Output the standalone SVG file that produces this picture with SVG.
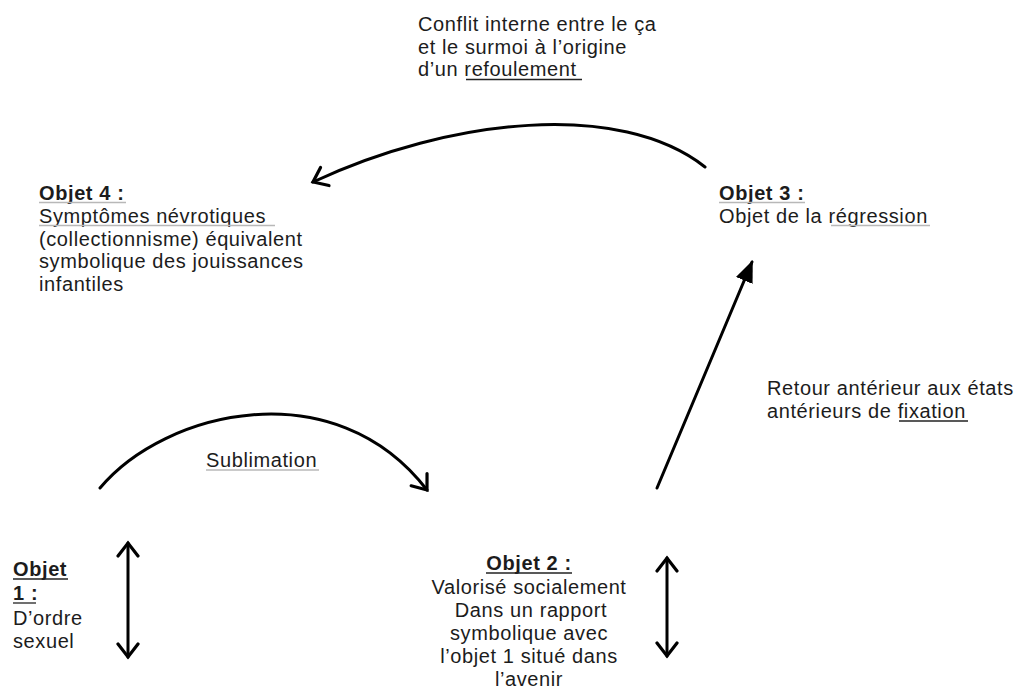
<svg xmlns="http://www.w3.org/2000/svg" width="1019" height="690" viewBox="0 0 1019 690">
<style>
.t{font-family:"Liberation Sans",Arial,sans-serif;font-size:20px;letter-spacing:0.6px;fill:#1c1c1c}
.b{font-weight:bold}
.c{stroke:#000;stroke-width:3;fill:none;stroke-linecap:round}
.ul{stroke:#222;stroke-width:1.3}
.ug{stroke:#b8b8b8;stroke-width:1.6}
</style>
<defs>
<marker id="open" markerUnits="userSpaceOnUse" markerWidth="26" markerHeight="26" refX="15" refY="11" orient="auto-start-reverse" viewBox="0 0 26 22">
<path d="M2,1 L15,11 L2,21" fill="none" stroke="#000" stroke-width="3.2" stroke-linecap="round" stroke-linejoin="miter"/>
</marker>
<marker id="solid" markerUnits="userSpaceOnUse" markerWidth="24" markerHeight="20" refX="20" refY="9" orient="auto" viewBox="0 0 24 18">
<path d="M0,0 L22,9 L0,18 Z" fill="#000"/>
</marker>
</defs>
<rect width="1019" height="690" fill="#fff"/>
<g id="connectors">
<path class="c" d="M705,167 C620,100 450,118 313,182" marker-end="url(#open)"/>
<path class="c" d="M100,488 C165,410 335,370 427,490" marker-end="url(#open)"/>
<path class="c" d="M657,488 L752,262" marker-end="url(#solid)"/>
<path class="c" d="M128,543 L128,657" marker-start="url(#open)" marker-end="url(#open)"/>
<path class="c" d="M667,558 L667,656" marker-start="url(#open)" marker-end="url(#open)"/>
</g>
<g id="label-conflit">
<text class="t" x="418" y="31">Conflit interne entre le ça</text>
<text class="t" x="418" y="53.5">et le surmoi à l’origine</text>
<text class="t" x="418" y="76">d’un refoulement</text>
<line class="ul" x1="466" y1="79.5" x2="582" y2="79.5"/>
</g>
<g id="objet4">
<text class="t b" x="39" y="200">Objet 4 :</text>
<line class="ug" x1="39" y1="202.5" x2="126" y2="202.5"/>
<text class="t" x="39" y="223">Symptômes névrotiques</text>
<line class="ug" x1="39" y1="225.5" x2="275" y2="225.5"/>
<text class="t" x="39" y="245.5">(collectionnisme) équivalent</text>
<text class="t" x="39" y="268">symbolique des jouissances</text>
<text class="t" x="39" y="290.5">infantiles</text>
</g>
<g id="objet3">
<text class="t b" x="719" y="200">Objet 3 :</text>
<line class="ug" x1="719" y1="202.5" x2="805" y2="202.5"/>
<text class="t" x="719" y="223">Objet de la régression</text>
<line class="ug" x1="831" y1="225.5" x2="930" y2="225.5"/>
</g>
<g id="label-retour">
<text class="t" x="767" y="395">Retour antérieur aux états</text>
<text class="t" x="767" y="418">antérieurs de fixation</text>
<line class="ul" x1="899" y1="421" x2="968" y2="421"/>
</g>
<g id="label-sublimation">
<text class="t" x="206" y="467">Sublimation</text>
<line class="ug" x1="206" y1="470" x2="319" y2="470"/>
</g>
<g id="objet1">
<text class="t b" x="13" y="576">Objet</text>
<line class="ul" x1="13" y1="579" x2="68" y2="579"/>
<text class="t b" x="13" y="600">1 :</text>
<line class="ul" x1="13" y1="603" x2="36" y2="603"/>
<text class="t" x="13" y="625">D’ordre</text>
<text class="t" x="13" y="648">sexuel</text>
</g>
<g id="objet2">
<text class="t b" x="529" y="570" text-anchor="middle">Objet 2 :</text>
<line class="ul" x1="486" y1="573" x2="572" y2="573"/>
<text class="t" x="529" y="594" text-anchor="middle">Valorisé socialement</text>
<text class="t" x="531" y="617" text-anchor="middle">Dans un rapport</text>
<text class="t" x="529" y="640" text-anchor="middle">symbolique avec</text>
<text class="t" x="529" y="663" text-anchor="middle">l’objet 1 situé dans</text>
<text class="t" x="529" y="686" text-anchor="middle">l’avenir</text>
</g>
</svg>
